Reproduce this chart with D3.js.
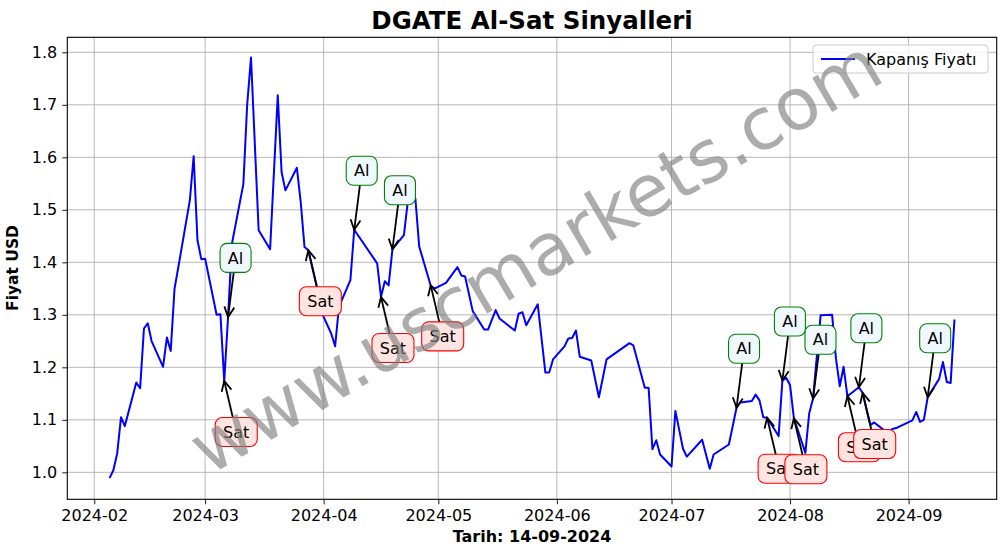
<!DOCTYPE html>
<html><head><meta charset="utf-8">
<script src="https://cdn.jsdelivr.net/npm/d3@7"></script>
<style>body{margin:0;background:#fff}svg{display:block;font-family:"DejaVu Sans",sans-serif}</style>
</head><body><svg id="c" width="1006" height="554"></svg>
<script>
const dates = ["2024-02-05","2024-02-06","2024-02-07","2024-02-08","2024-02-09","2024-02-12","2024-02-13","2024-02-14","2024-02-15","2024-02-16",
"2024-02-19","2024-02-20","2024-02-21","2024-02-22","2024-02-23","2024-02-26","2024-02-27","2024-02-28","2024-02-29","2024-03-01",
"2024-03-04","2024-03-05","2024-03-06","2024-03-07","2024-03-08","2024-03-11","2024-03-12","2024-03-13","2024-03-15","2024-03-18",
"2024-03-20","2024-03-21","2024-03-22","2024-03-25","2024-03-26","2024-03-27","2024-03-28","2024-04-01","2024-04-03","2024-04-04",
"2024-04-05","2024-04-08","2024-04-09","2024-04-15","2024-04-16","2024-04-17","2024-04-18","2024-04-19","2024-04-22","2024-04-23",
"2024-04-24","2024-04-25","2024-04-26","2024-04-29","2024-04-30","2024-05-03","2024-05-06","2024-05-07","2024-05-08","2024-05-10",
"2024-05-13","2024-05-14","2024-05-16","2024-05-17","2024-05-21","2024-05-22","2024-05-23","2024-05-24","2024-05-27","2024-05-29",
"2024-05-30","2024-05-31","2024-06-03","2024-06-04","2024-06-05","2024-06-06","2024-06-07","2024-06-10","2024-06-12","2024-06-14",
"2024-06-20","2024-06-21","2024-06-24","2024-06-25","2024-06-26","2024-06-27","2024-06-28","2024-07-01","2024-07-02","2024-07-04",
"2024-07-05","2024-07-09","2024-07-11","2024-07-12","2024-07-16","2024-07-18","2024-07-19","2024-07-22","2024-07-23","2024-07-24",
"2024-07-25","2024-07-26","2024-07-29","2024-07-30","2024-07-31","2024-08-01","2024-08-02","2024-08-05","2024-08-06","2024-08-07",
"2024-08-08","2024-08-09","2024-08-12","2024-08-13","2024-08-14","2024-08-15","2024-08-16","2024-08-19","2024-08-20","2024-08-21",
"2024-08-22","2024-08-23","2024-08-26","2024-08-27","2024-08-28","2024-08-29","2024-09-02","2024-09-03","2024-09-04","2024-09-05",
"2024-09-06","2024-09-09","2024-09-10","2024-09-11","2024-09-12","2024-09-13"];
const prices = [0.989,1.004,1.036,1.105,1.088,1.171,1.160,1.274,1.284,1.250,
1.201,1.257,1.231,1.350,1.391,1.518,1.602,1.442,1.406,1.407,
1.300,1.301,1.174,1.296,1.435,1.549,1.700,1.790,1.461,1.425,
1.718,1.572,1.537,1.580,1.515,1.429,1.423,1.296,1.264,1.240,
1.315,1.366,1.462,1.398,1.334,1.364,1.356,1.425,1.452,1.515,
1.522,1.521,1.430,1.356,1.350,1.361,1.391,1.375,1.373,1.307,
1.272,1.272,1.309,1.293,1.270,1.302,1.305,1.280,1.320,1.190,
1.190,1.215,1.240,1.255,1.256,1.270,1.220,1.213,1.143,1.215,
1.246,1.242,1.161,1.161,1.044,1.061,1.034,1.011,1.117,1.045,
1.030,1.062,1.007,1.034,1.053,1.123,1.133,1.136,1.148,1.137,
1.105,1.104,1.069,1.175,1.180,1.166,1.103,1.037,1.112,1.140,
1.221,1.299,1.300,1.217,1.164,1.201,1.145,1.162,1.151,1.120,
1.090,1.095,1.078,1.080,1.083,1.085,1.099,1.115,1.096,1.100,
1.143,1.178,1.210,1.172,1.170,1.291];
const buyDates  = ["2024-03-07","2024-04-09","2024-04-19","2024-07-18","2024-07-30","2024-08-07","2024-08-19","2024-09-06"];
const sellDates = ["2024-03-06","2024-03-28","2024-04-16","2024-04-29","2024-07-26","2024-08-02","2024-08-16","2024-08-20"];
const yTicks = [1.0,1.1,1.2,1.3,1.4,1.5,1.6,1.7,1.8];
const titleText = "DGATE Al-Sat Sinyalleri";
const xLabel = "Tarih: 14-09-2024";
const yLabel = "Fiyat USD";
const legendLabel = "Kapanış Fiyatı";
const watermark = "www.uscmarkets.com";

const parse = d3.utcParse("%Y-%m-%d");
const data = dates.map((d,i)=>({date:parse(d), v:prices[i]}));
const byDate = new Map(data.map(d=>[+d.date,d]));

const svg = d3.select("#c");
const L=67.3, R=996.7, T=37.3, B=499.3;
const ext = d3.extent(data,d=>d.date);
const span = ext[1]-ext[0];
const x = d3.scaleUtc().domain([new Date(+ext[0]-span*0.05), new Date(+ext[1]+span*0.05)]).range([L,R]);
const y = d3.scaleLinear().domain([0.9486,1.8286]).range([B,T]);

// grid
const g = svg.append("g");
const months = d3.utcMonth.range(parse("2024-02-01"), parse("2024-10-01")).filter(m=>x(m)>=L&&x(m)<=R);
g.selectAll(".gx").data(months).join("line").attr("x1",d=>x(d)).attr("x2",d=>x(d)).attr("y1",T).attr("y2",B).attr("stroke","#b0b0b0").attr("stroke-width",0.9);
g.selectAll(".gy").data(yTicks).join("line").attr("x1",L).attr("x2",R).attr("y1",d=>y(d)).attr("y2",d=>y(d)).attr("stroke","#b0b0b0").attr("stroke-width",0.9);

// axes
const xAxis = d3.axisBottom(x).tickValues(months).tickFormat(d3.utcFormat("%Y-%m")).tickSizeOuter(0).tickSize(5).tickPadding(5);
const yAxis = d3.axisLeft(y).tickValues(yTicks).tickFormat(d3.format(".1f")).tickSizeOuter(0).tickSize(5).tickPadding(5);
const gx = svg.append("g").attr("transform",`translate(0,${B})`).call(xAxis);
const gy = svg.append("g").attr("transform",`translate(${L},0)`).call(yAxis);
[gx,gy].forEach(a=>{a.select(".domain").remove();a.selectAll("text").attr("font-family","DejaVu Sans").attr("font-size",16).attr("fill","#000");a.selectAll("line").attr("stroke","#000").attr("stroke-width",0.9);});

// line
svg.append("path").datum(data).attr("fill","none").attr("stroke","#0000ff").attr("stroke-width",2)
  .attr("stroke-linejoin","round").attr("d",d3.line().x(d=>x(d.date)).y(d=>y(d.v)));

svg.append("rect").attr("x",L).attr("y",T).attr("width",R-L).attr("height",B-T).attr("fill","none").attr("stroke","#000").attr("stroke-width",1.1);

// annotations
function annotate(dstr, label, dx, dy, w, stroke, fill){
  const p = byDate.get(+parse(dstr));
  const tx = x(p.date), ty = y(p.v);
  const cx = tx+dx, cy = ty+dy;
  const a = svg.append("g");
  const ang = Math.atan2(ty-cy, tx-cx);
  a.append("line").attr("x1",cx).attr("y1",cy).attr("x2",tx).attr("y2",ty).attr("stroke","#000").attr("stroke-width",1.8);
  const hl=10, hw=5;
  const bx = tx-hl*Math.cos(ang), by = ty-hl*Math.sin(ang);
  const px = -Math.sin(ang), py = Math.cos(ang);
  a.append("path").attr("d",`M${bx+px*hw},${by+py*hw}L${tx},${ty}L${bx-px*hw},${by-py*hw}`).attr("fill","none").attr("stroke","#000").attr("stroke-width",1.8);
  a.append("rect").attr("x",cx-w/2).attr("y",cy-14.5).attr("width",w).attr("height",29).attr("rx",7).attr("ry",7)
    .attr("fill",fill).attr("stroke",stroke).attr("stroke-width",1.1);
  a.append("text").attr("x",cx).attr("y",cy).attr("dy","0.35em").attr("text-anchor","middle").attr("font-size",16).attr("fill","#000").text(label);
}
buyDates.forEach(d=>annotate(d,"Al",7.5,-59,31,"#008000","#f0f8ff"));
sellDates.forEach(d=>annotate(d,"Sat",12,51,42,"#ff0000","#ffe4e1"));

// legend
const lg = svg.append("g");
lg.append("rect").attr("x",813).attr("y",45).attr("width",175).attr("height",28).attr("rx",3).attr("fill","#fff").attr("fill-opacity",0.8).attr("stroke","#cccccc");
lg.append("line").attr("x1",821).attr("x2",855).attr("y1",59).attr("y2",59).attr("stroke","#0000ff").attr("stroke-width",2);
lg.append("text").attr("x",866).attr("y",64.5).attr("font-size",16).text(legendLabel);

// titles
svg.append("text").attr("x",(L+R)/2).attr("y",29).attr("text-anchor","middle").attr("font-size",24.5).attr("font-weight","bold").text(titleText);
svg.append("text").attr("x",(L+R)/2).attr("y",542).attr("text-anchor","middle").attr("font-size",16).attr("font-weight","bold").text(xLabel);
svg.append("text").attr("transform","translate(18,268) rotate(-90)").attr("text-anchor","middle").attr("font-size",15.5).attr("font-weight","bold").text(yLabel);

// watermark
svg.append("text").attr("transform","translate(548,278) rotate(-30.3)").attr("text-anchor","middle")
  .attr("font-size",72).attr("fill","#808080").attr("fill-opacity",0.65).text(watermark);
</script></body></html>
